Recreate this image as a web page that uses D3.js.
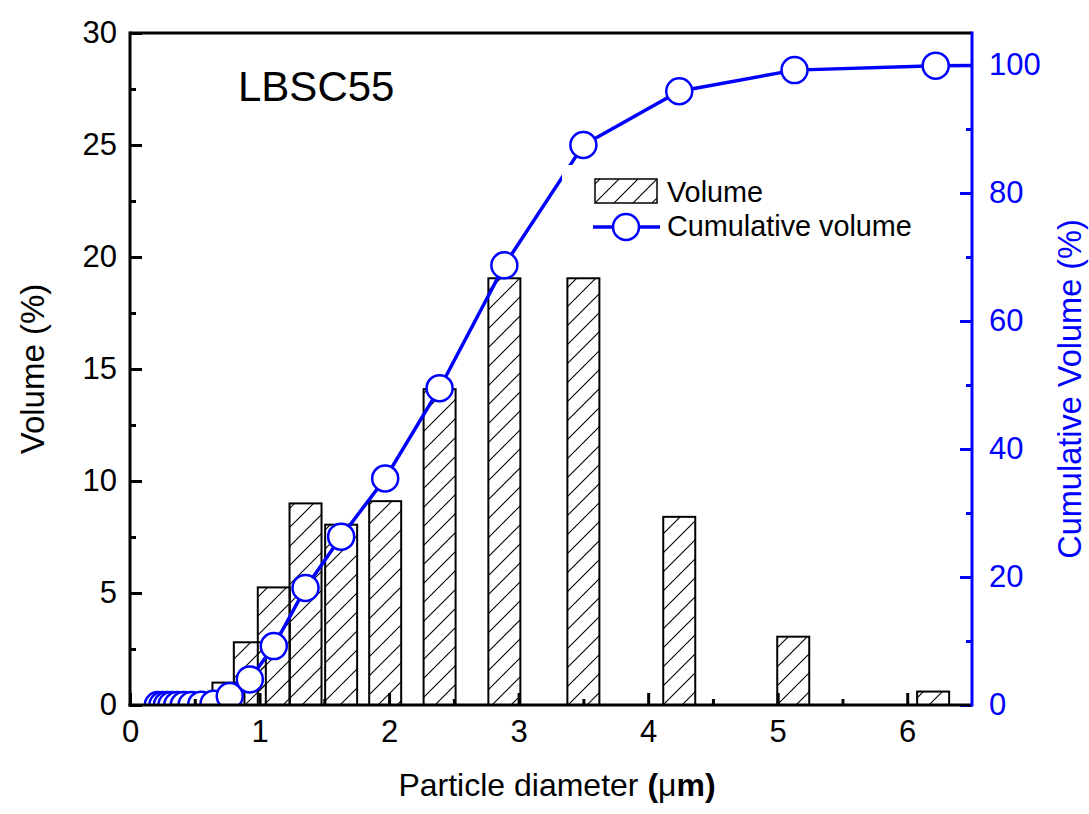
<!DOCTYPE html>
<html><head><meta charset="utf-8">
<script src="https://cdn.jsdelivr.net/npm/d3@7"></script>
<style>
html,body{margin:0;padding:0;background:#fff;}
text{font-family:"Liberation Sans",Arial,sans-serif;}
</style></head>
<body><svg id="c" width="1089" height="814"></svg>
<script>
// ---- data ----
const barDiameters = [0.76, 0.925, 1.11, 1.355, 1.63, 1.97, 2.39, 2.89, 3.50, 4.24, 5.12, 6.20];
const barVolumes   = [1.0, 2.8, 5.25, 9.0, 8.05, 9.1, 14.1, 19.05, 19.05, 8.4, 3.05, 0.6];
const cumDiameters = [0.215, 0.25, 0.285, 0.32, 0.365, 0.415, 0.475, 0.55, 0.645, 0.77, 0.925, 1.11, 1.355, 1.63, 1.97, 2.39, 2.89, 3.50, 4.24, 5.13, 6.22, 7.0];
const cumVolumes   = [0, 0, 0, 0, 0, 0, 0, 0.05, 0.2, 1.4, 4.0, 9.2, 18.3, 26.3, 35.4, 49.5, 68.7, 87.5, 95.9, 99.2, 99.9, 100];
const xTicks = [0, 1, 2, 3, 4, 5, 6];
const yLeftTicks = [0, 5, 10, 15, 20, 25, 30];
const yRightTicks = [0, 20, 40, 60, 80, 100];
const sampleName = "LBSC55";

// ---- layout ----
const L = 130, R = 972, T = 33, B = 705;
const blue = "#0000ff";
const svg = d3.select("#c");
const x = d3.scaleLinear().domain([0, 6.5]).range([L, R]);
const yL = d3.scaleLinear().domain([0, 30]).range([B, T]);
const yR = d3.scaleLinear().domain([0, 105]).range([B, T]);

const defs = svg.append("defs");
const pat = defs.append("pattern").attr("id", "hatch").attr("patternUnits", "userSpaceOnUse")
  .attr("width", 19).attr("height", 19);
pat.append("path").attr("d", "M-2,21 L21,-2 M-4,4 L4,-4 M15,23 L23,15")
  .attr("stroke", "#000").attr("stroke-width", 1.1);
defs.append("clipPath").attr("id", "plotclip").append("rect")
  .attr("x", L).attr("y", T).attr("width", R - L).attr("height", B - T);

// bars
const barW = 32;
svg.append("g").selectAll("rect").data(barDiameters).join("rect")
  .attr("x", (d) => x(d) - barW / 2)
  .attr("y", (d, i) => yL(barVolumes[i]))
  .attr("width", barW)
  .attr("height", (d, i) => B - yL(barVolumes[i]))
  .attr("fill", "url(#hatch)")
  .attr("stroke", "#000").attr("stroke-width", 2);

// cumulative line
const pts = cumDiameters.map((d, i) => [d, cumVolumes[i]]);
const gl = svg.append("g").attr("clip-path", "url(#plotclip)");
gl.append("path").datum(pts)
  .attr("d", d3.line().x((d) => x(d[0])).y((d) => yR(d[1])))
  .attr("fill", "none").attr("stroke", blue).attr("stroke-width", 3.5);
gl.selectAll("circle").data(pts).join("circle")
  .attr("cx", (d) => x(d[0])).attr("cy", (d) => yR(d[1])).attr("r", 13)
  .attr("fill", "#fff").attr("stroke", blue).attr("stroke-width", 2.5);

// axes
const fs = 31;
function styleAxis(g, color) {
  g.select(".domain").remove();
  g.selectAll("line").attr("stroke", color).attr("stroke-width", 3);
  g.selectAll("text").attr("fill", color).style("font-size", fs + "px")
    .style("font-family", '"Liberation Sans", Arial, sans-serif');
}
function minor(g, axis) { g.call(axis); g.selectAll("text").remove(); g.select(".domain").remove(); }
svg.append("g").attr("transform", `translate(0,${B})`)
  .call((g) => minor(g, d3.axisBottom(x).tickValues(d3.range(0.5, 6.5, 1)).tickSize(-6)))
  .selectAll("line").attr("stroke", "#000").attr("stroke-width", 3);
svg.append("g").attr("transform", `translate(${L},0)`)
  .call((g) => minor(g, d3.axisLeft(yL).tickValues(d3.range(2.5, 30, 5)).tickSize(-6)))
  .selectAll("line").attr("stroke", "#000").attr("stroke-width", 3);
svg.append("g").attr("transform", `translate(${R},0)`)
  .call((g) => minor(g, d3.axisRight(yR).tickValues(d3.range(10, 105, 20)).tickSize(-6)))
  .selectAll("line").attr("stroke", blue).attr("stroke-width", 3);

svg.append("g").attr("transform", `translate(0,${B})`)
  .call(d3.axisBottom(x).tickValues(xTicks).tickFormat(d3.format("d")).tickSize(-12).tickPadding(15))
  .call((g) => styleAxis(g, "#000"));
svg.append("g").attr("transform", `translate(${L},0)`)
  .call(d3.axisLeft(yL).tickValues(yLeftTicks).tickFormat(d3.format("d")).tickSize(-12).tickPadding(13))
  .call((g) => styleAxis(g, "#000"));
svg.append("g").attr("transform", `translate(${R},0)`)
  .call(d3.axisRight(yR).tickValues(yRightTicks).tickFormat(d3.format("d")).tickSize(-12).tickPadding(17))
  .call((g) => styleAxis(g, blue));

// frame
svg.append("line").attr("x1", L).attr("x2", R).attr("y1", T).attr("y2", T).attr("stroke", "#000").attr("stroke-width", 3);
svg.append("line").attr("x1", L - 1.5).attr("x2", R).attr("y1", B).attr("y2", B).attr("stroke", "#000").attr("stroke-width", 3);
svg.append("line").attr("x1", L).attr("x2", L).attr("y1", T - 1.5).attr("y2", B + 1.5).attr("stroke", "#000").attr("stroke-width", 3);
svg.append("line").attr("x1", R).attr("x2", R).attr("y1", T - 1.5).attr("y2", B + 1.5).attr("stroke", blue).attr("stroke-width", 3);

// legend
const lg = svg.append("g");
lg.append("rect").attr("x", 562).attr("y", 165).attr("width", 368).attr("height", 83).attr("fill", "#fff");
lg.append("rect").attr("x", 595).attr("y", 179).attr("width", 62).attr("height", 24)
  .attr("fill", "url(#hatch)").attr("stroke", "#000").attr("stroke-width", 1.5);
lg.append("text").attr("x", 667).attr("y", 202).style("font-size", "28.8px").text("Volume");
lg.append("line").attr("x1", 593).attr("x2", 660).attr("y1", 227).attr("y2", 227).attr("stroke", blue).attr("stroke-width", 3.5);
lg.append("circle").attr("cx", 626).attr("cy", 227).attr("r", 13).attr("fill", "#fff").attr("stroke", blue).attr("stroke-width", 2.5);
lg.append("text").attr("x", 667).attr("y", 236).style("font-size", "28.8px").text("Cumulative volume");

// sample label
svg.append("text").attr("x", 238).attr("y", 101).style("font-size", "42px").text(sampleName);

// titles
svg.append("text").attr("transform", `translate(44,369) rotate(-90)`).attr("text-anchor", "middle")
  .style("font-size", "33px").text("Volume (%)");
svg.append("text").attr("transform", `translate(1081,389) rotate(-90)`).attr("text-anchor", "middle")
  .style("font-size", "32.5px").attr("fill", blue).text("Cumulative Volume (%)");
const xt = svg.append("text").attr("x", 557).attr("y", 796).attr("text-anchor", "middle").style("font-size", "32px");
xt.append("tspan").text("Particle diameter ");
xt.append("tspan").style("font-weight", "bold").text("(");
xt.append("tspan").text("μ");
xt.append("tspan").style("font-weight", "bold").text("m)");
</script></body></html>
